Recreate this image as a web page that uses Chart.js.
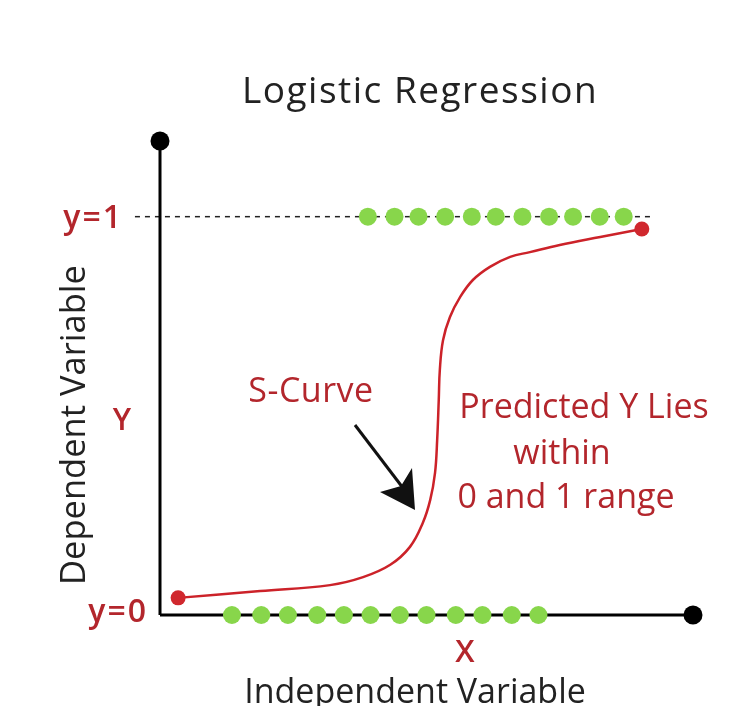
<!DOCTYPE html>
<html lang="en">
  <head>
    <meta charset="utf-8">
    <title>Logistic Regression</title>
    <script src="https://cdn.jsdelivr.net/npm/chart.js@4.4.1/dist/chart.umd.min.js"></script>
    <style>
      html, body { margin: 0; padding: 0; background: #fff; }
      #wrap { width: 738px; height: 706px; }
    </style>
  </head>
  <body>
    <div id="wrap"><canvas id="chart" width="738" height="706"></canvas></div>

  <script>
    // green observations sitting on y=1 and y=0
    var topX = [3.9, 4.4, 4.85, 5.35, 5.85, 6.3, 6.8, 7.3, 7.75, 8.25, 8.7];
    var bottomX = [1.35, 1.9, 2.4, 2.95, 3.45, 3.95, 4.5, 5.0, 5.55, 6.05, 6.6, 7.1];
    // the S-curve
    var curveX = [0.34, 1.88, 3.19, 3.81, 4.32, 4.69, 4.93, 5.07, 5.16, 5.2, 5.23, 5.25, 5.31, 5.44, 5.63, 5.87, 6.19, 6.57, 6.94, 7.5, 8.26, 9.04];
    var curveY = [0.043, 0.06, 0.075, 0.095, 0.126, 0.171, 0.231, 0.289, 0.357, 0.439, 0.54, 0.615, 0.69, 0.748, 0.798, 0.841, 0.874, 0.899, 0.911, 0.929, 0.949, 0.969];
    // axes ends and the dashed y=1 guide
    var axisEndX = 10;
    var axisEndY = 1.19;
    var guideX = [-0.47, 9.2];

    var red = '#b3262c';
    var curveRed = '#cc2229';
    var green = '#88d64b';
    var font = '"Open Sans", "Noto Sans", sans-serif';

    function pts(xs, y) {
      return xs.map(function (x) { return { x: x, y: y }; });
    }

    var curveData = curveX.map(function (x, i) { return { x: x, y: curveY[i] }; });
    var curveRadius = curveX.map(function (x, i) { return (i == 0 || i == curveX.length - 1) ? 7.5 : 0; });

    // texts and the arrow are drawn on top of the chart
    var labels = [
      { text: 'Logistic Regression', x: 420, y: 103, size: 37, color: '#222', align: 'center', ls: 1.5 },
      { text: 'y=1', x: 123, y: 228, size: 32, color: red, align: 'right', weight: 600, ls: 2 },
      { text: 'y=0', x: 148, y: 622, size: 32, color: red, align: 'right', weight: 600, ls: 2 },
      { text: 'Y', x: 122, y: 430, size: 31, color: red, align: 'center', weight: 600 },
      { text: 'X', x: 465, y: 662, size: 31, color: red, align: 'center', weight: 600 },
      { text: 'Independent Variable', x: 415, y: 703, size: 34, color: '#222', align: 'center' },
      { text: 'S-Curve', x: 311, y: 402, size: 34, color: red, align: 'center', ls: 0.5 },
      { text: 'Predicted Y Lies', x: 584, y: 418, size: 34, color: red, align: 'center' },
      { text: 'within', x: 562, y: 464, size: 34, color: red, align: 'center' },
      { text: '0 and 1 range', x: 566, y: 508, size: 34, color: red, align: 'center' }
    ];

    var decor = {
      id: 'decor',
      afterDraw: function (chart) {
        var ctx = chart.ctx;
        ctx.save();
        labels.forEach(function (l) {
          ctx.font = (l.weight || 400) + ' ' + l.size + 'px ' + font;
          ctx.letterSpacing = (l.ls || 0) + 'px';
          ctx.fillStyle = l.color;
          ctx.textAlign = l.align;
          ctx.textBaseline = 'alphabetic';
          ctx.fillText(l.text, l.x, l.y);
        });
        ctx.letterSpacing = '0px';
        // rotated y title
        ctx.translate(85, 425);
        ctx.rotate(-Math.PI / 2);
        ctx.font = '400 34.5px ' + font;
        ctx.fillStyle = '#222';
        ctx.textAlign = 'center';
        ctx.fillText('Dependent Variable', 0, 0);
        ctx.restore();

        // arrow pointing at the curve
        ctx.save();
        ctx.strokeStyle = '#111';
        ctx.fillStyle = '#111';
        ctx.lineWidth = 3;
        ctx.beginPath();
        ctx.moveTo(355, 425);
        ctx.lineTo(403, 488);
        ctx.stroke();
        ctx.beginPath();
        ctx.moveTo(415, 510);
        ctx.lineTo(380, 492);
        ctx.lineTo(401, 486);
        ctx.lineTo(412, 468);
        ctx.closePath();
        ctx.fill();
        ctx.restore();
      }
    };

    new Chart(document.getElementById('chart'), {
      type: 'line',
      data: {
        datasets: [
          {
            data: pts(guideX, 1),
            borderColor: '#222', borderWidth: 1.5, borderDash: [5, 5],
            pointRadius: 0, clip: false, order: 6
          },
          {
            data: [{ x: 0, y: 0 }, { x: 0, y: axisEndY }],
            borderColor: '#000', borderWidth: 3, backgroundColor: '#000',
            pointRadius: [0, 9.5], pointBorderWidth: 0, clip: false, order: 5
          },
          {
            data: [{ x: 0, y: 0 }, { x: axisEndX, y: 0 }],
            borderColor: '#000', borderWidth: 3, backgroundColor: '#000',
            pointRadius: [0, 9.5], pointBorderWidth: 0, clip: false, order: 4
          },
          {
            data: pts(topX, 1), showLine: false,
            backgroundColor: green, pointRadius: 9, pointBorderWidth: 0, clip: false, order: 3
          },
          {
            data: pts(bottomX, 0), showLine: false,
            backgroundColor: green, pointRadius: 9, pointBorderWidth: 0, clip: false, order: 2
          },
          {
            data: curveData,
            borderColor: curveRed, borderWidth: 2.5, backgroundColor: '#d0282e',
            tension: 0.4,
            pointRadius: curveRadius, pointBorderWidth: 0, clip: false, order: 1
          }
        ]
      },
      options: {
        responsive: false,
        animation: false,
        events: [],
        layout: { padding: { left: 160, right: 45, top: 137, bottom: 91 } },
        plugins: { legend: { display: false }, tooltip: { enabled: false }, title: { display: false } },
        scales: {
          x: { type: 'linear', min: 0, max: 10, display: false },
          y: { type: 'linear', min: 0, max: 1.2, display: false }
        }
      },
      plugins: [decor]
    });
  </script>
  </body>
</html>
